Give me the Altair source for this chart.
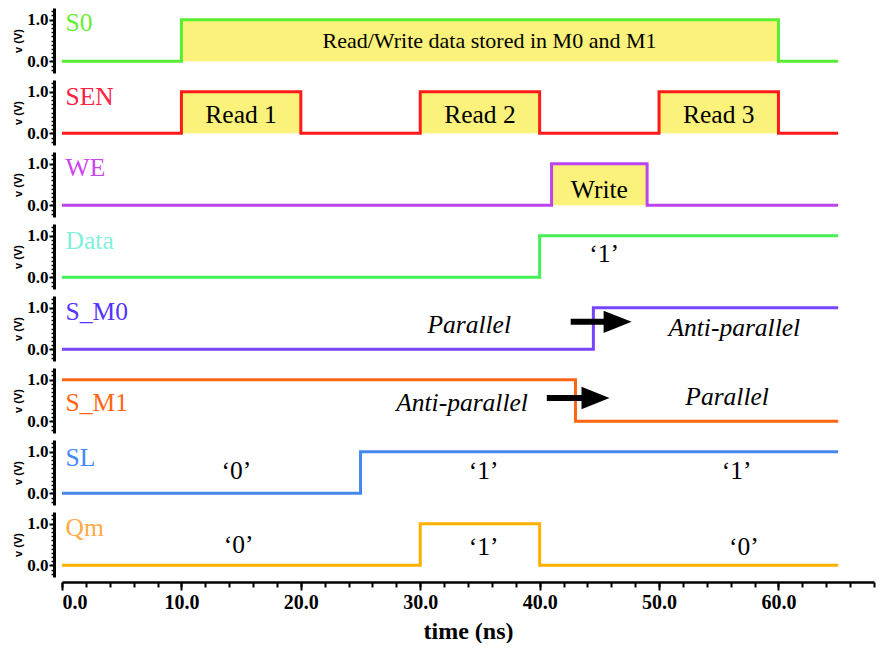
import altair as alt
import pandas as pd

# ---------------- data ----------------
signals = ["S0", "SEN", "WE", "Data", "S_M0", "S_M1", "SL", "Qm"]

edge_times = {
    "S0":   [0, 10, 60, 65],
    "SEN":  [0, 10, 20, 30, 40, 50, 60, 65],
    "WE":   [0, 41, 49, 65],
    "Data": [0, 40, 65],
    "S_M0": [0, 44.5, 65],
    "S_M1": [0, 43, 65],
    "SL":   [0, 25, 65],
    "Qm":   [0, 30, 40, 65],
}
edge_levels = {
    "S0":   [0, 1, 0, 0],
    "SEN":  [0, 1, 0, 1, 0, 1, 0, 0],
    "WE":   [0, 1, 0, 0],
    "Data": [0, 1, 1],
    "S_M0": [0, 1, 1],
    "S_M1": [1, 0, 0],
    "SL":   [0, 1, 1],
    "Qm":   [0, 1, 0, 0],
}

line_colors = {
    "S0": "#55EE33", "SEN": "#FF1A1A", "WE": "#BB44EE", "Data": "#44EE55",
    "S_M0": "#7744FF", "S_M1": "#FF6611", "SL": "#4488EE", "Qm": "#FFB000",
}
name_colors = {
    "S0": "#66EE33", "SEN": "#FF2244", "WE": "#CC44EE", "Data": "#7FF0DC",
    "S_M0": "#5533FF", "S_M1": "#FF6611", "SL": "#4488FF", "Qm": "#FFAA44",
}
name_y = {
    "S0": 0.91, "SEN": 0.88, "WE": 0.9, "Data": 0.88,
    "S_M0": 0.9, "S_M1": 0.44, "SL": 0.85, "Qm": 0.9,
}

# highlighted (yellow) intervals
hl_signal = ["S0", "SEN", "SEN", "SEN", "WE"]
hl_start = [10, 10, 30, 50, 41]
hl_end = [60, 20, 40, 60, 49]

# annotations
ann_signal = ["S0", "SEN", "SEN", "SEN", "WE", "Data",
              "S_M0", "S_M0", "S_M1", "S_M1",
              "SL", "SL", "SL", "Qm", "Qm", "Qm"]
ann_text = ["Read/Write data stored in M0 and M1", "Read 1", "Read 2", "Read 3", "Write", "‘1’",
            "Parallel", "Anti-parallel", "Anti-parallel", "Parallel",
            "‘0’", "‘1’", "‘1’", "‘0’", "‘1’", "‘0’"]
ann_x = [35.8, 15, 35, 55, 45, 45.4,
         34.1, 56.3, 33.5, 55.7,
         14.6, 35.3, 56.5, 14.8, 35.3, 57.1]
ann_y = [0.48, 0.44, 0.44, 0.44, 0.37, 0.56,
         0.59, 0.51, 0.44, 0.59,
         0.54, 0.54, 0.54, 0.49, 0.44, 0.44]
ann_italic = [False, False, False, False, False, False,
              True, True, True, True,
              False, False, False, False, False, False]
ann_small = [True, False, False, False, False, False,
             False, False, False, False,
             False, False, False, False, False, False]

# arrows
arrow_signal = ["S_M0", "S_M1"]
arrow_start = [42.6, 40.6]
arrow_end = [47.7, 45.85]
arrow_y = [0.66, 0.56]

x_major_ticks = [0, 10, 20, 30, 40, 50, 60]
x_minor_ticks = [0, 2, 4, 6, 8, 10, 12, 14, 16, 18, 20, 22, 24, 26, 28, 30, 32, 34,
                 36, 38, 40, 42, 44, 46, 48, 50, 52, 54, 56, 58, 60, 62, 64, 66, 68]
y_major_ticks = [0, 1]
y_minor_ticks = [-0.2, -0.1, 0.0, 0.1, 0.2, 0.3, 0.4, 0.5, 0.6, 0.7, 0.8, 0.9, 1.0, 1.1, 1.2]

# ---------------- styling ----------------
FILL = "#FAF27A"
SERIF = "Liberation Serif"
SANS = "Liberation Sans"
W = 812
H = 65
xs = alt.Scale(domain=[0, 68], nice=False, zero=False)
ys = alt.Scale(domain=[-0.28, 1.28], nice=False, zero=False)

major_y = alt.Axis(orient="left", values=y_major_ticks, format=".1f", labelFont=SERIF,
                   labelFontWeight="bold", labelFontSize=17, labelColor="black",
                   labelPadding=1, tickSize=5, tickWidth=2, tickColor="black",
                   domainWidth=3, domainColor="black", offset=8, grid=False,
                   title="v (V)", titleFont=SANS, titleFontWeight="bold",
                   titleFontSize=11, titlePadding=3, titleColor="black")
minor_y = alt.Axis(orient="left", values=y_minor_ticks, labels=False, tickSize=3,
                   tickWidth=1.5, tickColor="black", domain=False, offset=8,
                   grid=False, title=None)
major_x = alt.Axis(orient="bottom", values=x_major_ticks, format=".1f", labelFont=SERIF,
                   labelFontWeight="bold", labelFontSize=20, labelColor="black",
                   labelPadding=2, tickSize=8, tickWidth=2, tickColor="black",
                   domainWidth=2.5, domainColor="black", offset=5, grid=False,
                   title="time (ns)", titleFont=SERIF, titleFontWeight="bold",
                   titleFontSize=24, titlePadding=7, titleColor="black")
minor_x = alt.Axis(orient="bottom", values=x_minor_ticks, labels=False, tickSize=5,
                   tickWidth=2, tickColor="black", domain=False, offset=5,
                   grid=False, title=None)


def panel(sig, bottom):
    df = pd.DataFrame({"t": edge_times[sig], "v": edge_levels[sig]})
    lo, hi = min(edge_levels[sig]), max(edge_levels[sig])
    layers = []

    hl = pd.DataFrame({"s": hl_signal, "t0": hl_start, "t1": hl_end})
    hl = hl[hl["s"] == sig].copy()
    if len(hl):
        hl["lo"] = lo
        hl["hi"] = hi
        layers.append(
            alt.Chart(hl).mark_rect(color=FILL).encode(
                x=alt.X("t0:Q", scale=xs, axis=None), x2="t1:Q",
                y=alt.Y("lo:Q", scale=ys, axis=None), y2="hi:Q"))

    layers.append(
        alt.Chart(df).mark_line(interpolate="step-after", strokeWidth=3,
                                color=line_colors[sig]).encode(
            x=alt.X("t:Q", scale=xs, axis=major_x if bottom else None),
            y=alt.Y("v:Q", scale=ys, axis=major_y)))
    layers.append(
        alt.Chart(df).mark_line(opacity=0).encode(
            x=alt.X("t:Q", scale=xs, axis=minor_x if bottom else None),
            y=alt.Y("v:Q", scale=ys, axis=minor_y)))

    nm = pd.DataFrame({"t": [0.3], "v": [name_y[sig]], "label": [sig]})
    layers.append(
        alt.Chart(nm).mark_text(font=SERIF, fontSize=25.5, align="left", baseline="middle",
                                color=name_colors[sig]).encode(
            x=alt.X("t:Q", scale=xs, axis=None),
            y=alt.Y("v:Q", scale=ys, axis=None), text="label:N"))

    an = pd.DataFrame({"s": ann_signal, "label": ann_text, "t": ann_x, "v": ann_y,
                       "it": ann_italic, "sm": ann_small})
    an = an[an["s"] == sig]
    for italic in (False, True):
        for small in (False, True):
            sub = an[(an["it"] == italic) & (an["sm"] == small)]
            if len(sub):
                layers.append(
                    alt.Chart(sub).mark_text(font=SERIF, fontSize=22 if small else 25.5,
                                             fontStyle="italic" if italic else "normal",
                                             align="center", baseline="middle",
                                             color="black").encode(
                        x=alt.X("t:Q", scale=xs, axis=None),
                        y=alt.Y("v:Q", scale=ys, axis=None), text="label:N"))

    ar = pd.DataFrame({"s": arrow_signal, "t0": arrow_start, "t1": arrow_end, "v": arrow_y})
    ar = ar[ar["s"] == sig].copy()
    if len(ar):
        ar["tr"] = ar["t1"] - 1.5
        layers.append(
            alt.Chart(ar).mark_rule(color="black", strokeWidth=6).encode(
                x=alt.X("t0:Q", scale=xs, axis=None), x2="tr:Q",
                y=alt.Y("v:Q", scale=ys, axis=None)))
        layers.append(
            alt.Chart(ar).mark_point(shape="M0,0 L-2,-0.8 L-2,0.8 Z", size=784,
                                     filled=True, color="black", opacity=1,
                                     strokeWidth=0).encode(
                x=alt.X("t1:Q", scale=xs, axis=None),
                y=alt.Y("v:Q", scale=ys, axis=None)))

    return alt.layer(*layers).resolve_axis(x="independent", y="independent").properties(
        width=W, height=H)


panels = [panel(s, i == len(signals) - 1) for i, s in enumerate(signals)]

chart = alt.vconcat(*panels, spacing=7, bounds="flush").properties(
    padding={"left": 4, "top": 0, "right": 4, "bottom": 0},
    background="white",
).configure_view(stroke=None)

chart.save("out.html", embed_options={"renderer": "svg", "actions": False})
